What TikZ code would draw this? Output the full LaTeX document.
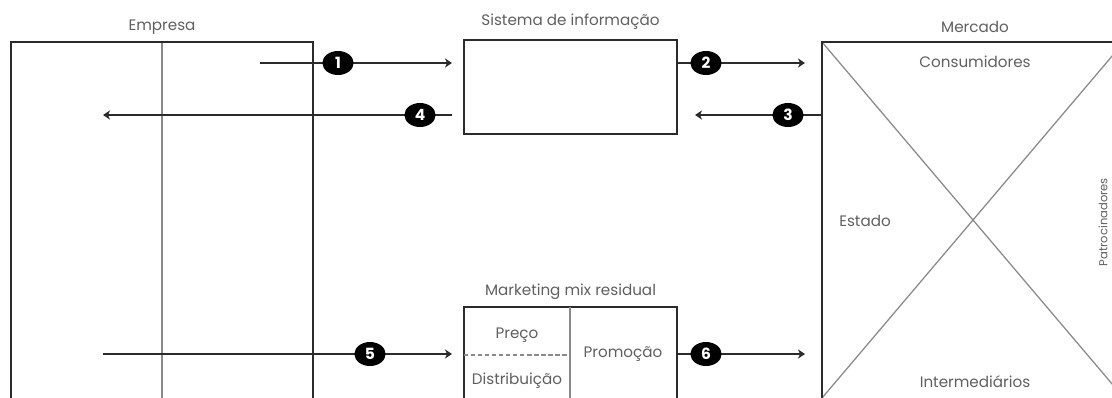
\documentclass[tikz,border=0pt]{standalone}
\usepackage{fontspec}
\setmainfont{Poppins}
\usetikzlibrary{arrows.meta,shapes.geometric}
\definecolor{ink}{HTML}{2B2B2B}
\definecolor{txt}{HTML}{606060}
\definecolor{lightink}{HTML}{8A8A8A}
\tikzset{
  box/.style={draw=ink,line width=1.3pt},
  inner/.style={draw=lightink,line width=0.9pt},
  arr/.style={draw=ink,line width=1.2pt,-{Stealth[length=5pt,width=6.5pt,inset=1.5pt]}},
  num/.style={ellipse,fill=black,text=white,minimum width=0.78cm,minimum height=0.6cm,inner sep=0pt,font=\fontsize{11}{11}\selectfont\bfseries},
  lbl/.style={text=txt,inner sep=0pt,font=\fontsize{10.8}{12}\selectfont},
}
\begin{document}
\begin{tikzpicture}[x=0.025cm,y=-0.025cm]
\useasboundingbox (0,0) rectangle (1112,397);
\clip (0,0) rectangle (1112,397);
\fill[white] (0,0) rectangle (1112,397);
% Empresa
\draw[inner] (162,42) -- (162,420);
\draw[box] (11,420) -- (11,42) -- (313,42) -- (313,420);
\node[lbl] (emp) at (162,27) {Empresa};
% Sistema de informacao
\node[box,minimum width=5.325cm,minimum height=2.35cm,inner sep=0pt] (sis) at (570.5,87) {};
\node[lbl] (sisl) at (570.5,22) {Sistema de informação};
% Mercado
\draw[inner] (822,42) -- (1124,398);
\draw[inner] (822,398) -- (1124,42);
\draw[box] (822,420) -- (822,42) -- (1130,42);
\node[lbl] (merl) at (975,27) {Mercado};
\node[lbl] (cons) at (975,62) {Consumidores};
\node[lbl] (est) at (865,221) {Estado};
\node[lbl] (inter) at (975,382) {Intermediários};
\node[lbl,rotate=90,font=\fontsize{8.2}{9}\selectfont] (pat) at (1103,222) {Patrocinadores};
% Marketing mix residual
\draw[box] (464,420) -- (464,307) -- (677,307) -- (677,420);
\draw[inner] (570,307) -- (570,420);
\draw[draw=lightink,line width=0.8pt,densely dashed] (464,355) -- (570,355);
\node[lbl] (mml) at (570.5,292) {Marketing mix residual};
\node[lbl] (prc) at (517,335) {Preço};
\node[lbl] (dst) at (517,381) {Distribuição};
\node[lbl] (prm) at (623,354) {Promoção};
% connector end points
\coordinate (a1s) at (260,63);  \coordinate (a1e) at (452,63);
\coordinate (a4s) at (452,115); \coordinate (a4e) at (103,115);
\coordinate (a2s) at (677,63);  \coordinate (a2e) at (805,63);
\coordinate (a3s) at (822,115); \coordinate (a3e) at (695,115);
\coordinate (a5s) at (103,354); \coordinate (a5e) at (452,354);
\coordinate (a6s) at (677,354); \coordinate (a6e) at (805,354);
\draw[arr] (a1s) -- (a1e);
\draw[arr] (a4s) -- (a4e);
\draw[arr] (a2s) -- (a2e);
\draw[arr] (a3s) -- (a3e);
\draw[arr] (a5s) -- (a5e);
\draw[arr] (a6s) -- (a6e);
\node[num] (n1) at (338,63) {1};
\node[num] (n4) at (420,115) {4};
\node[num] (n2) at (706,63) {2};
\node[num] (n3) at (788,115) {3};
\node[num] (n5) at (370,354) {5};
\node[num] (n6) at (706,354) {6};
\end{tikzpicture}
\end{document}
